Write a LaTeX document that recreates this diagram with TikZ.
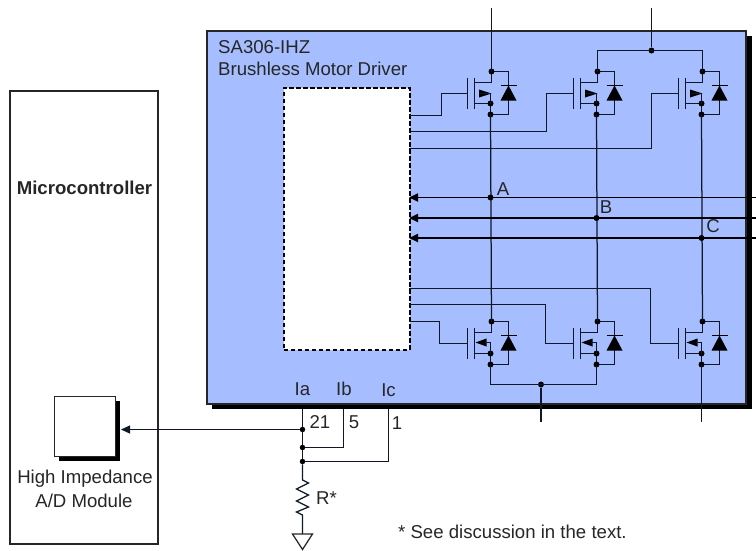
\documentclass[tikz,border=0pt]{standalone}
\usepackage{fontspec}
\setmainfont{Liberation Sans}
\usetikzlibrary{arrows.meta}
\definecolor{panel}{HTML}{A6BEFF}
\definecolor{wire}{HTML}{101828}
\newcommand{\mosbody}{%
  \draw[wire,line width=1.4pt] (-24,6) -- (-24,37);
  \draw[wire,line width=1.4pt] (-17,6) -- (-17,37);
  \draw[wireline] (-17,11) -- (0,11) -- (0,0) -- (17,0) -- (17,43) -- (-1,43);
  \draw[wireline] (-17,32) -- (-1,32) -- (-1,43);
  \fill[black] (17,14) -- (9,29) -- (25,29) -- cycle;
  \draw[black,line width=1.3pt] (9,14) -- (25,14);
  \coordinate (-g) at (-24,22);
  \coordinate (-up) at (0,0);
  \coordinate (-low) at (-1,43);
  \node[dot] at (0,0) {};
  \node[dot] at (-1,32) {};
  \node[dot] at (-1,43) {};
}
\tikzset{
  x=1pt,y=-1pt,
  lbl/.style={inner sep=0pt,font=\fontsize{18.6}{22}\selectfont,text=black!85},
  wireline/.style={wire,line width=1.25pt},
  busline/.style={black,line width=1.7pt},
  arr/.style={-{Triangle[length=9pt,width=8pt]}},
  dot/.style={circle,fill=black,inner sep=0pt,minimum size=6pt},
  smalldot/.style={circle,fill=black,inner sep=0pt,minimum size=5.5pt},
  mostop/.pic={\mosbody
    \fill[black] (0,22) -- (-12.5,18) -- (-12.5,26) -- cycle;
    \draw[wireline] (-12,22) -- (-1,22) -- (-1,32);},
  mosbot/.pic={\mosbody
    \fill[black] (-16,21) -- (-5,17) -- (-5,25) -- cycle;
    \draw[wireline] (-7,21) -- (-1,21) -- (-1,32);},
}
\begin{document}
\begin{tikzpicture}
\useasboundingbox (0,0) rectangle (756,550);
% microcontroller
\node[draw=black!85,line width=1.5pt,fill=white,minimum width=148pt,minimum height=453pt,anchor=north west,inner sep=0pt] (mcu) at (9,90) {};
\node[lbl,font=\fontsize{18.6}{22}\selectfont\bfseries] (mcutxt) at (84.5,188) {Microcontroller};
% A/D module
\fill[black] (59,401) rectangle (120,461);
\node[draw=black!85,line width=1.1pt,fill=white,minimum width=61pt,minimum height=60pt,anchor=north west,inner sep=0pt] (adc) at (54,396) {};
\node[lbl] (adc1) at (85,479) {High Impedance};
\node[lbl] (adc2) at (84,501) {A/D Module};
% driver
\fill[black] (212,36) rectangle (752,409);
\node[draw=black!85,line width=1.5pt,fill=panel,minimum width=539pt,minimum height=373pt,anchor=north west,inner sep=0pt] (drv) at (206,30) {};
\node[lbl,anchor=west] (t1) at (218,47) {SA306-IHZ};
\node[lbl,anchor=west] (t2) at (218,69) {Brushless Motor Driver};
\node[draw=black,dash pattern=on 4.5pt off 2.5pt,line width=1.8pt,fill=white,minimum width=126pt,minimum height=262pt,anchor=north west,inner sep=0pt] (logic) at (283,87) {};
% mosfets
\pic (q1) at (491.5,71.5) {mostop};
\pic (q2) at (597.5,71.5) {mostop};
\pic (q3) at (702.5,71.5) {mostop};
\pic (q4) at (491.5,321.5) {mosbot};
\pic (q5) at (597.5,321.5) {mosbot};
\pic (q6) at (702.5,321.5) {mosbot};
% supply
\coordinate (vp1) at (491.5,8);
\coordinate (vp2) at (651.5,8);
\node[dot] (vj) at (651.5,50.5) {};
\draw[wireline] (vp1) -- (q1-up);
\draw[wireline] (vp2) -- (vj);
\draw[wireline] (q2-up) -- (597.5,50.5) -- (702.5,50.5) -- (q3-up);
% phase legs
\draw[wireline] (q1-low) -- (q4-up);
\draw[wireline] (q2-low) -- (q5-up);
\draw[wireline] (q3-low) -- (q6-up);
% phase buses
\coordinate (ea) at (756,197.5); \coordinate (eb) at (756,218); \coordinate (ec) at (756,238);
\coordinate (ia) at (409,197.5); \coordinate (ib) at (409,218); \coordinate (ic) at (409,238);
\draw[busline,arr] (ea) -- (ia);
\draw[busline,arr] (eb) -- (ib);
\draw[busline,arr] (ec) -- (ic);
\node[dot] (na) at (490.5,197.5) {};
\node[dot] (nb) at (596.5,218) {};
\node[dot] (nc) at (701.5,238) {};
\node[lbl] (la) at (503,189) {A};
\node[lbl] (lb) at (606,207) {B};
\node[lbl] (lc) at (713,226) {C};
% gates top
\coordinate (g1) at (409,115.5); \coordinate (g2) at (409,131.5); \coordinate (g3) at (409,148.5);
\draw[wireline] (g1) -- (441.5,115.5) -- (441.5,93.5) -- (q1-g);
\draw[wireline] (g2) -- (546.5,131.5) -- (546.5,93.5) -- (q2-g);
\draw[wireline] (g3) -- (651.5,148.5) -- (651.5,93.5) -- (q3-g);
% gates bottom
\coordinate (g4) at (409,321.5); \coordinate (g5) at (409,304.5); \coordinate (g6) at (409,288.5);
\draw[wireline] (g4) -- (439.5,321.5) -- (439.5,343.5) -- (q4-g);
\draw[wireline] (g5) -- (545.5,304.5) -- (545.5,343.5) -- (q5-g);
\draw[wireline] (g6) -- (650.5,288.5) -- (650.5,343.5) -- (q6-g);
% low side returns
\node[dot] (rj) at (541,384.5) {};
\coordinate (r1) at (541,422); \coordinate (r2) at (701.5,422);
\draw[wireline] (q4-low) -- (490.5,384.5) -- (596.5,384.5) -- (q5-low);
\draw[wireline] (rj) -- (r1);
\draw[wireline] (q6-low) -- (r2);
% current sense
\node[lbl] (ila) at (302.5,389) {Ia};
\node[lbl] (ilb) at (344,389) {Ib};
\node[lbl] (ilc) at (388.5,390) {Ic};
\node[lbl] (p21) at (320,422) {21};
\node[lbl] (p5) at (354,422) {5};
\node[lbl] (p1) at (397,423) {1};
\coordinate (ta) at (302.5,409); \coordinate (tb) at (343.5,409); \coordinate (tc) at (388.5,409);
\coordinate (adctip) at (121,429.5);
\node[smalldot] (ja) at (302.5,429.5) {};
\node[smalldot] (jb) at (302.5,447.5) {};
\node[smalldot] (jc) at (302.5,461.5) {};
\draw[wireline] (ta) -- (ja) -- (jb) -- (jc);
\draw[wireline] (tb) -- (343.5,447.5) -- (jb);
\draw[wireline] (tc) -- (388.5,461.5) -- (jc);
\draw[wireline,arr] (ja) -- (adctip);
% resistor and ground
\coordinate (gt) at (302.5,534);
\draw[wireline] (jc) -- (302.5,480) -- (308.5,483) -- (296.5,489) -- (308.5,495) -- (296.5,501) -- (308.5,507) -- (296.5,512) -- (302.5,515) -- (gt);
\draw[draw=black!85,line width=1.25pt,fill=white] (292.5,534) -- (312.5,534) -- (302.5,549.5) -- cycle;
\node[lbl,anchor=west] (rl) at (316,498) {R*};
\node[lbl,anchor=west] (note) at (398,532) {* See discussion in the text.};
\end{tikzpicture}
\end{document}
